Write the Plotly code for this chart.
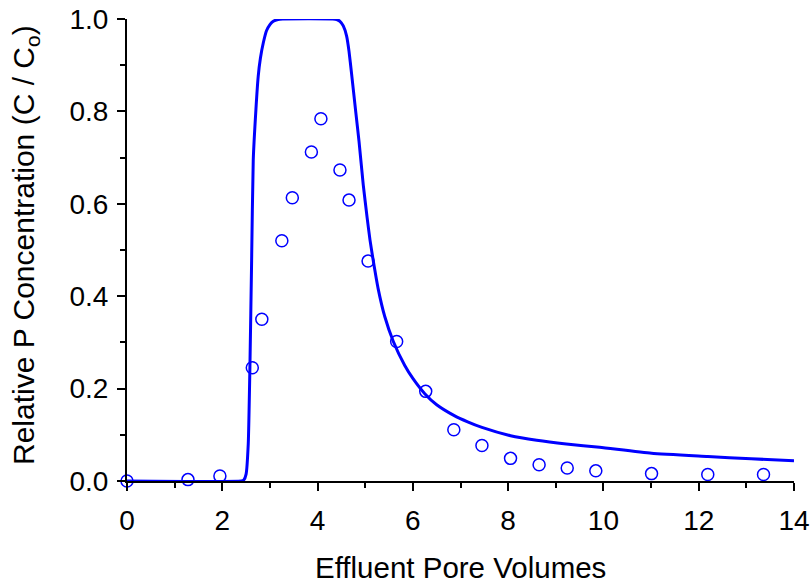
import plotly.graph_objects as go

# Observed data (open circles)
obs_x = [0.0, 1.28, 1.95, 2.63, 2.83, 3.25, 3.47, 3.87, 4.07, 4.47, 4.66, 5.06,
         5.66, 6.27, 6.86, 7.45, 8.05, 8.65, 9.24, 9.84, 11.01, 12.19, 13.36]
obs_y = [0.0, 0.003, 0.011, 0.245, 0.350, 0.520, 0.613, 0.712, 0.784, 0.673, 0.608, 0.476,
         0.302, 0.194, 0.111, 0.077, 0.049, 0.035, 0.028, 0.022, 0.016, 0.014, 0.014]

# Model curve (solid line)
model_x = [0.0, 2.40, 2.45, 2.50, 2.545, 2.58, 2.616, 2.65, 2.706, 2.754, 2.80, 2.86,
           2.93, 3.00, 3.07, 3.17, 3.27, 4.32, 4.40, 4.47, 4.54, 4.61, 4.66, 4.71,
           4.80, 4.87, 4.96, 5.04, 5.10, 5.17, 5.27, 5.41, 5.59, 5.83, 6.00, 6.25, 6.50, 6.86,
           7.15, 7.45, 8.05, 8.60, 9.22, 9.92, 11.01, 12.19, 13.10, 14.0]
model_y = [0.0, 0.0, 0.002, 0.015, 0.080, 0.247, 0.478, 0.695, 0.804, 0.876, 0.915, 0.948,
           0.975, 0.988, 0.995, 0.999, 1.0, 1.0, 0.999, 0.995, 0.985, 0.963, 0.930, 0.885,
           0.800, 0.735, 0.640, 0.570, 0.522, 0.476, 0.417, 0.356, 0.302, 0.250, 0.222, 0.189, 0.165, 0.142,
           0.128, 0.116, 0.098, 0.088, 0.080, 0.073, 0.060, 0.053, 0.048, 0.044]

x_ticks = [0, 2, 4, 6, 8, 10, 12, 14]
y_ticks = [0.0, 0.2, 0.4, 0.6, 0.8, 1.0]

x_title = "Effluent Pore Volumes"
y_title = "Relative P Concentration (C / C<sub>o</sub>)"

BLUE = "#0000FF"
FONT = "Liberation Sans, Arial, sans-serif"

fig = go.Figure()
fig.add_trace(go.Scatter(
    x=model_x, y=model_y, mode="lines",
    line=dict(color=BLUE, width=3, shape="spline", smoothing=0.5),
    cliponaxis=False, showlegend=False, hoverinfo="skip",
))
fig.add_trace(go.Scatter(
    x=obs_x, y=obs_y, mode="markers",
    marker=dict(symbol="circle-open", size=12, color=BLUE, line=dict(color=BLUE, width=1.5)),
    cliponaxis=False, showlegend=False,
))

fig.update_layout(
    width=812, height=584,
    margin=dict(l=127, r=18, t=19, b=103),
    paper_bgcolor="white", plot_bgcolor="white",
    font=dict(family=FONT, color="black", size=28),
    xaxis=dict(
        range=[0, 14], tickvals=x_ticks, ticktext=[str(v) for v in x_ticks],
        automargin=False,
        showgrid=False, zeroline=False, showline=True, linecolor="black", linewidth=2,
        ticks="outside", ticklen=8, tickwidth=2, tickcolor="black",
        tickfont=dict(size=28), ticklabelstandoff=5,
        minor=dict(dtick=1, ticks="outside", ticklen=5, tickwidth=2, tickcolor="black", showgrid=False),
    ),
    yaxis=dict(
        range=[0, 1], tickvals=y_ticks, ticktext=[f"{v:.1f}" for v in y_ticks],
        automargin=False,
        showgrid=False, zeroline=False, showline=True, linecolor="black", linewidth=2,
        ticks="outside", ticklen=8, tickwidth=2, tickcolor="black",
        tickfont=dict(size=28), ticklabelstandoff=3,
        minor=dict(dtick=0.1, ticks="outside", ticklen=5, tickwidth=2, tickcolor="black", showgrid=False),
    ),
    annotations=[
        dict(text=x_title, xref="paper", yref="paper", x=0.5, y=0,
             xanchor="center", yanchor="middle", yshift=-86, showarrow=False,
             font=dict(size=29.5, family=FONT, color="black")),
        dict(text=y_title, xref="paper", yref="paper", x=0, y=0.5, textangle=-90,
             xanchor="center", yanchor="middle", xshift=-102, yshift=5, showarrow=False,
             font=dict(size=30, family=FONT, color="black")),
    ],
)

fig.write_html("out.html", config={"displayModeBar": False},
               post_script="document.body.style.margin='0';")
